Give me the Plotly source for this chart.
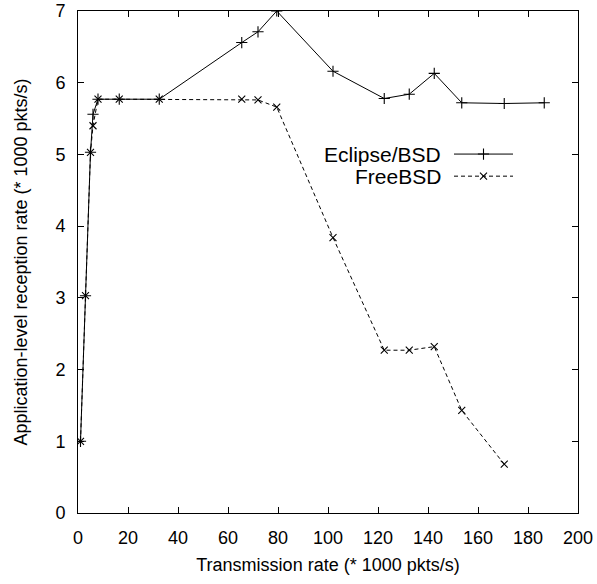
import plotly.graph_objects as go

eclipse_x = [1, 3, 5, 6, 8, 16.5, 32.5, 65.5, 72, 79.5, 102, 122.5, 132.5, 142.5, 153.5, 170.5, 186.5]
eclipse_y = [1.0, 3.03, 5.03, 5.56, 5.77, 5.77, 5.77, 6.56, 6.71, 7.0, 6.16, 5.78, 5.84, 6.13, 5.72, 5.71, 5.72]

freebsd_x = [1, 3, 5, 6, 8, 16.5, 32.5, 65.5, 72, 79.5, 102, 122.5, 132.5, 142.5, 153.5, 170.5]
freebsd_y = [1.0, 3.03, 5.03, 5.40, 5.77, 5.77, 5.77, 5.77, 5.76, 5.66, 3.84, 2.27, 2.27, 2.32, 1.43, 0.68]

x_ticks = [0, 20, 40, 60, 80, 100, 120, 140, 160, 180, 200]
y_ticks = [0, 1, 2, 3, 4, 5, 6, 7]

series_names = ["Eclipse/BSD", "FreeBSD"]

FONT = "Liberation Sans, Arial, sans-serif"

plus_marker = dict(symbol="cross-thin", size=8, line=dict(color="black", width=1.1))
x_marker = dict(symbol="x-thin", size=7, line=dict(color="black", width=1.1))
solid_line = dict(color="black", width=1)
dashed_line = dict(color="black", width=1, dash="4px,3px")

fig = go.Figure()
fig.add_trace(go.Scatter(
    x=eclipse_x, y=eclipse_y, mode="lines+markers", name=series_names[0],
    line=solid_line, marker=plus_marker, showlegend=False,
))
fig.add_trace(go.Scatter(
    x=freebsd_x, y=freebsd_y, mode="lines+markers", name=series_names[1],
    line=dashed_line, marker=x_marker, showlegend=False,
))

# gnuplot-style key: text right-aligned, sample line on the right (overlay axis in [0,1])
key_rows = [0.715, 0.671]
key_styles = [(solid_line, plus_marker), (dashed_line, x_marker)]
for name, yk, (ln, mk) in zip(series_names, key_rows, key_styles):
    fig.add_trace(go.Scatter(x=[0.752, 0.87], y=[yk, yk], mode="lines", line=ln,
                             xaxis="x2", yaxis="y2", showlegend=False, hoverinfo="skip"))
    fig.add_trace(go.Scatter(x=[0.811], y=[yk], mode="markers", marker=mk,
                             xaxis="x2", yaxis="y2", showlegend=False, hoverinfo="skip"))
    fig.add_annotation(x=0.730, y=yk, xref="x2", yref="y2", text=name, showarrow=False,
                       xanchor="right", yanchor="middle", font=dict(family=FONT, size=21, color="black"))

axis_common = dict(
    showgrid=False, zeroline=False, showline=True, linecolor="black", linewidth=1,
    mirror="ticks", ticks="inside", ticklen=6, tickwidth=1, tickcolor="black",
    tickfont=dict(family=FONT, size=18, color="black"), automargin=False,
    ticklabeloverflow="allow", ticklabelstandoff=8,
)

fig.update_layout(
    width=597, height=584,
    margin=dict(l=78, r=19, t=11, b=71),
    paper_bgcolor="white", plot_bgcolor="white",
    font=dict(family=FONT, size=18, color="black"),
    xaxis=dict(range=[0, 200], tickvals=x_ticks, ticktext=[str(v) for v in x_ticks],
               title=dict(text="Transmission rate (* 1000 pkts/s)", font=dict(family=FONT, size=18), standoff=11),
               **axis_common),
    yaxis=dict(range=[0, 7], tickvals=y_ticks, ticktext=[str(v) for v in y_ticks],
               title=dict(text="Application-level reception rate (* 1000 pkts/s)", font=dict(family=FONT, size=18), standoff=23),
               **axis_common),
    xaxis2=dict(range=[0, 1], overlaying="x", visible=False, fixedrange=True),
    yaxis2=dict(range=[0, 1], overlaying="y", visible=False, fixedrange=True),
)

# remove the default 8px page margin so the figure fills the window exactly
fig.write_html("out.html", config={"displayModeBar": False},
               post_script="document.body.style.margin='0px';")
